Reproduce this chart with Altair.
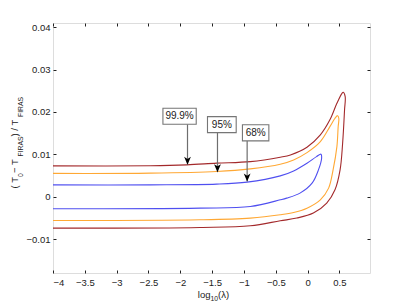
import altair as alt
import pandas as pd

# ---- contour data ----
levels = ["99.9%", "95%", "68%"]
colors = ["#a3292b", "#ffa834", "#4f4ff0"]

red_x = [-4.00, -2.47, -1.90, -1.43, -0.90, -0.43, -0.27, -0.01, 0.20, 0.35, 0.46, 0.54, 0.56,
         0.59, 0.58, 0.55, 0.51, 0.43, 0.30, 0.09, -0.17, -0.43, -0.90, -1.69, -4.00]
red_y = [0.00728, 0.00730, 0.00752, 0.00792, 0.00829, 0.00933, 0.00987, 0.01169, 0.01459, 0.01814,
         0.02205, 0.02441, 0.02465, 0.02361, 0.02048, 0.01263, 0.00634, 0.00163, -0.00151, -0.00386,
         -0.00504, -0.00568, -0.00686, -0.00726, -0.00740]

orange_x = [-4.00, -2.47, -1.43, -0.90, -0.43, -0.22, -0.01, 0.20, 0.35, 0.43, 0.47,
            0.49, 0.48, 0.46, 0.40, 0.33, 0.20, -0.01, -0.22, -0.43, -0.90, -1.69, -4.00]
orange_y = [0.00550, 0.00556, 0.00594, 0.00657, 0.00768, 0.00869, 0.01041, 0.01301, 0.01654, 0.01852,
            0.01913, 0.01852, 0.01654, 0.01183, 0.00634, 0.00203, -0.00073, -0.00269, -0.00372,
            -0.00426, -0.00504, -0.00544, -0.00561]

blue_x = [-4.00, -2.47, -1.43, -0.95, -0.43, -0.22, -0.01, 0.14, 0.21,
          0.22, 0.17, 0.07, -0.12, -0.33, -0.43, -0.90, -1.69, -4.00]
blue_y = [0.00280, 0.00280, 0.00297, 0.00344, 0.00492, 0.00610, 0.00792, 0.00947, 0.01004,
          0.00910, 0.00634, 0.00320, 0.00085, -0.00033, -0.00073, -0.00231, -0.00269, -0.00285]

# ---- annotation data ----
ann_text = ["99.9%", "95%", "68%"]
box_x1 = [-2.273, -1.573, -1.024]
box_x2 = [-1.750, -1.122, -0.609]
box_y1 = [0.02088, 0.01890, 0.01700]
box_y2 = [0.01711, 0.01513, 0.01317]
arrow_x = [-1.887, -1.416, -0.950]
arrow_tip = [0.00752, 0.00580, 0.00358]

x_ticks = [-4, -3.5, -3, -2.5, -2, -1.5, -1, -0.5, 0, 0.5]
y_ticks = [-0.01, 0, 0.01, 0.02, 0.03, 0.04]
x_domain = [-4, 0.98]
y_domain = [-0.018, 0.041]

FONT = "Liberation Sans"
W, H = 317, 250

rows = []
for name, xs, ys in zip(levels, [red_x, orange_x, blue_x], [red_y, orange_y, blue_y]):
    for i, (a, b) in enumerate(zip(xs, ys)):
        rows.append({"level": name, "x": a, "y": b, "i": i})
df = pd.DataFrame(rows)

ann = pd.DataFrame({
    "text": ann_text, "x1": box_x1, "x2": box_x2, "y1": box_y1, "y2": box_y2,
    "ax": arrow_x, "tip": arrow_tip,
})
ann["cx"] = (ann["x1"] + ann["x2"]) / 2
ann["cy"] = (ann["y1"] + ann["y2"]) / 2

xs_ = alt.Scale(domain=x_domain, nice=False, zero=False)
ys_ = alt.Scale(domain=y_domain, nice=False, zero=False)

common_axis = dict(grid=False, domain=False, tickSize=3, offset=-3, tickColor="#222",
                   labelFont=FONT, labelFontSize=9.5, labelColor="#222", title=None)

lines = alt.Chart(df).mark_line(strokeWidth=1.1, interpolate="catmull-rom").encode(
    x=alt.X("x:Q", scale=xs_, axis=alt.Axis(values=x_ticks, format=".1~f", orient="bottom",
                                            labelPadding=4, **common_axis)),
    y=alt.Y("y:Q", scale=ys_, axis=alt.Axis(values=y_ticks, format=".2~f", orient="left",
                                            labelPadding=3, **common_axis)),
    color=alt.Color("level:N", scale=alt.Scale(domain=levels, range=colors), legend=None),
    detail="level:N",
    order="i:Q",
)

mirror = alt.Chart(df).mark_line(opacity=0).encode(
    x=alt.X("x:Q", scale=xs_, axis=alt.Axis(values=x_ticks, orient="top", labels=False, **common_axis)),
    y=alt.Y("y:Q", scale=ys_, axis=alt.Axis(values=y_ticks, orient="right", labels=False, **common_axis)),
    detail="level:N",
)

shafts = alt.Chart(ann).mark_rule(color="#6e6e6e", strokeWidth=1.2).encode(
    x=alt.X("ax:Q", scale=xs_, axis=None),
    y=alt.Y("y2:Q", scale=ys_, axis=None),
    y2="tip:Q",
)

heads = alt.Chart(ann).mark_point(
    shape="M0,0L-0.85,-2L0,-1.45L0.85,-2Z", filled=True, fill="#000", size=64,
    opacity=1, strokeWidth=0,
).encode(
    x=alt.X("ax:Q", scale=xs_, axis=None),
    y=alt.Y("tip:Q", scale=ys_, axis=None),
)

boxes = alt.Chart(ann).mark_rect(fill="white", stroke="#767676", strokeWidth=1.1).encode(
    x=alt.X("x1:Q", scale=xs_, axis=None), x2="x2:Q",
    y=alt.Y("y1:Q", scale=ys_, axis=None), y2="y2:Q",
)

labels = alt.Chart(ann).mark_text(font=FONT, fontSize=10, color="#222", baseline="middle",
                                  align="center").encode(
    x=alt.X("cx:Q", scale=xs_, axis=None),
    y=alt.Y("cy:Q", scale=ys_, axis=None),
    text="text:N",
)

# ---- axis titles with TeX-like subscripts ----
EM = {"(": 0.333, ")": 0.333, " ": 0.278, "T": 0.611, "0": 0.556, "1": 0.556, "−": 0.584,
      "/": 0.278, "F": 0.611, "I": 0.278, "R": 0.722, "A": 0.667, "S": 0.667,
      "l": 0.222, "o": 0.556, "g": 0.556, "λ": 0.5}
MAIN, SUB = 9.5, 6.8


def width(s, size):
    return sum(EM.get(c, 0.55) for c in s) * size


title_layers = []
one = pd.DataFrame({"a": [0]})

# y title (rotated, reading upward)
ypieces = [("( T", False), ("0", True), (" − T", False), ("FIRAS", True), (" ) / T", False), ("FIRAS", True)]
ypos = 165.5
for s, sub in ypieces:
    size = SUB if sub else MAIN
    bx = -29.8 if sub else -35.4
    title_layers.append(
        alt.Chart(one).mark_text(text=s, font=FONT, fontSize=size, angle=270, align="left",
                                 baseline="alphabetic", color="#222")
        .encode(x=alt.value(bx), y=alt.value(ypos))
    )
    ypos -= width(s, size)

# x title
xpieces = [("log", False), ("10", True), ("(λ)", False)]
total = sum(width(s, SUB if sub else MAIN) for s, sub in xpieces)
xpos = 160.5 - total / 2
for s, sub in xpieces:
    size = SUB if sub else MAIN
    by = 277.5 if sub else 274.5
    title_layers.append(
        alt.Chart(one).mark_text(text=s, font=FONT, fontSize=size, align="left",
                                 baseline="alphabetic", color="#222")
        .encode(x=alt.value(xpos), y=alt.value(by))
    )
    xpos += width(s, size)

chart = alt.layer(lines, mirror, shafts, heads, boxes, labels, *title_layers).resolve_axis(
    x="independent", y="independent"
).properties(
    width=W, height=H,
    autosize=alt.AutoSizeParams(type="none"),
    padding={"left": 45, "top": 15, "right": 30, "bottom": 30},
).configure_view(stroke="#222", strokeWidth=1).configure(background="white")

chart.save("out.html", embed_options={"renderer": "svg", "actions": False})
